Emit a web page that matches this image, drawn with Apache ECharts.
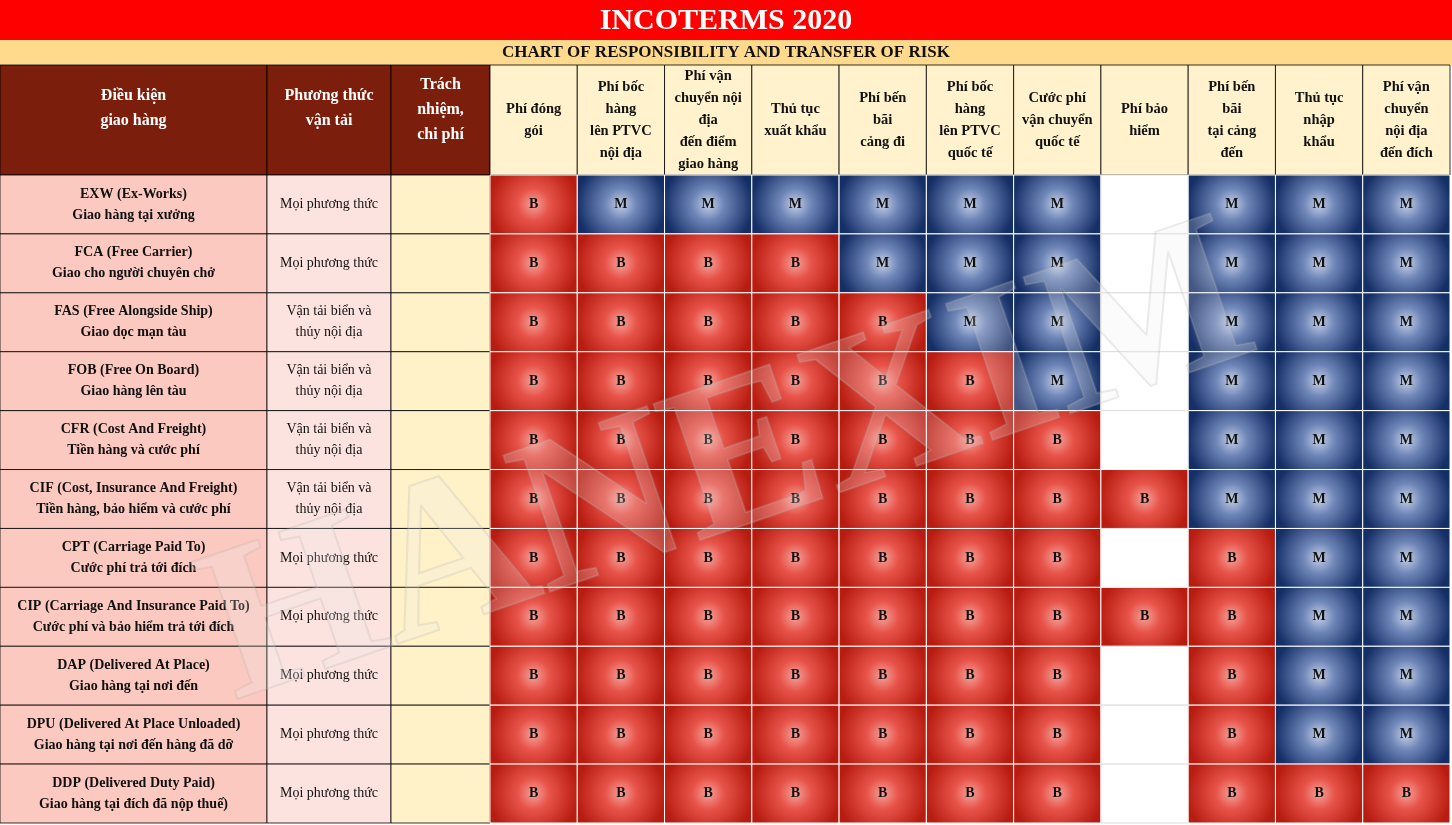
<!DOCTYPE html>
<html><head><meta charset="utf-8">
<script src="https://cdn.jsdelivr.net/npm/echarts@6/dist/echarts.min.js"></script>
<style>html,body{margin:0;padding:0;background:#fff}#c{width:1452px;height:825px}</style>
</head><body><div id="c"></div>
<script>
const title = 'INCOTERMS 2020';
const subtitle = 'CHART OF RESPONSIBILITY AND TRANSFER OF RISK';
const leftHeaders = ['Điều kiện\ngiao hàng', 'Phương thức\nvận tải', 'Trách\nnhiệm,\nchi phí'];
const costHeaders = ['Phí đóng\ngói','Phí bốc\nhàng\nlên PTVC\nnội địa','Phí vận\nchuyển nội\nđịa\nđến điểm\ngiao hàng','Thủ tục\nxuất khẩu','Phí bến\nbãi\ncảng đi','Phí bốc\nhàng\nlên PTVC\nquốc tế','Cước phí\nvận chuyển\nquốc tế','Phí bảo\nhiểm','Phí bến\nbãi\ntại cảng\nđến','Thủ tục\nnhập\nkhẩu','Phí vận\nchuyển\nnội địa\nđến đích'];
const terms = ['EXW (Ex-Works)\nGiao hàng tại xưởng','FCA (Free Carrier)\nGiao cho người chuyên chở','FAS (Free Alongside Ship)\nGiao dọc mạn tàu','FOB (Free On Board)\nGiao hàng lên tàu','CFR (Cost And Freight)\nTiền hàng và cước phí','CIF (Cost, Insurance And Freight)\nTiền hàng, bảo hiểm và cước phí','CPT (Carriage Paid To)\nCước phí trả tới đích','CIP (Carriage And Insurance Paid To)\nCước phí và bảo hiểm trả tới đích','DAP (Delivered At Place)\nGiao hàng tại nơi đến','DPU (Delivered At Place Unloaded)\nGiao hàng tại nơi đến hàng đã dỡ','DDP (Delivered Duty Paid)\nGiao hàng tại đích đã nộp thuế)'];
const transport = ['Mọi phương thức','Mọi phương thức','Vận tải biển và\nthủy nội địa','Vận tải biển và\nthủy nội địa','Vận tải biển và\nthủy nội địa','Vận tải biển và\nthủy nội địa','Mọi phương thức','Mọi phương thức','Mọi phương thức','Mọi phương thức','Mọi phương thức'];
const matrix = [
 'BMMMMMM-MMM',
 'BBBBMMM-MMM',
 'BBBBBMM-MMM',
 'BBBBBBM-MMM',
 'BBBBBBB-MMM',
 'BBBBBBBBMMM',
 'BBBBBBB-BMM',
 'BBBBBBBBBMM',
 'BBBBBBB-BMM',
 'BBBBBBB-BMM',
 'BBBBBBB-BBB'
];
const rowIdx = terms.map((_, i) => i);
const cells = [];
matrix.forEach((r, y) => r.split('').forEach((v, x) => cells.push([x, y, v])));

const F = '"Liberation Serif", "DejaVu Serif", serif';
const TOP = 175;
const leftCols = [[0, 267], [267, 124], [391, 99]];
const grids = leftCols.map(c => ({left: c[0], width: c[1], top: TOP, bottom: 2}));
grids.push({left: 490, right: 2, top: TOP, bottom: 2});
const xAxes = [], yAxes = [];
for (let i = 0; i < 4; i++) {
  xAxes.push({type: 'category', gridIndex: i, data: i === 3 ? costHeaders : ['c'], show: false});
  yAxes.push({type: 'category', gridIndex: i, data: rowIdx, inverse: true, show: false});
}
function rectItem(api, fill, txt, font, color) {
  const p = api.coord([api.value(0), api.value(1)]);
  const s = api.size([1, 1]);
  return {type: 'group', children: [
    {type: 'rect', shape: {x: p[0] - s[0] / 2, y: p[1] - s[1] / 2, width: s[0], height: s[1]},
     style: {fill: fill, stroke: '#000', lineWidth: 0.8}},
    {type: 'text', style: {x: p[0], y: p[1], text: txt, align: 'center', verticalAlign: 'middle',
     font: font, fill: color || '#000', lineHeight: 21}}
  ]};
}
const leftColors = ['#FCC9C0', '#FCE3DF', '#FFF2C8'];
const leftSeries = [0, 1, 2].map(ci => ({
  type: 'custom', xAxisIndex: ci, yAxisIndex: ci,
  data: rowIdx.map(i => [0, i]),
  renderItem: (params, api) => {
    const i = api.value(1);
    const txt = ci === 0 ? terms[i] : ci === 1 ? transport[i] : '';
    return rectItem(api, leftColors[ci], txt, (ci === 0 ? 'bold 14px ' : '14px ') + F, '#111');
  }
}));
const redG = {type: 'radial', x: 0.5, y: 0.5, r: 0.75, colorStops: [{offset: 0, color: '#F4A29A'}, {offset: 0.35, color: '#E8544A'}, {offset: 1, color: '#B81C10'}]};
const blueG = {type: 'radial', x: 0.5, y: 0.5, r: 0.75, colorStops: [{offset: 0, color: '#C5D0E6'}, {offset: 0.35, color: '#6F86B8'}, {offset: 1, color: '#142E66'}]};
const matrixSeries = {
  type: 'custom', xAxisIndex: 3, yAxisIndex: 3, data: cells,
  renderItem: (params, api) => {
    const v = cells[params.dataIndex][2];
    const p = api.coord([api.value(0), api.value(1)]);
    const s = api.size([1, 1]);
    const fill = v === 'B' ? redG : v === 'M' ? blueG : '#fff';
    return {type: 'group', children: [
      {type: 'rect', shape: {x: p[0] - s[0] / 2, y: p[1] - s[1] / 2, width: s[0], height: s[1]},
       style: {fill: fill, stroke: v === '-' ? '#ddd' : '#fff', lineWidth: 1}},
      {type: 'text', style: {x: p[0], y: p[1], text: v === '-' ? '' : v, align: 'center', verticalAlign: 'middle', font: 'bold 14px ' + F, fill: '#111'}}
    ]};
  }
};
const graphic = [
  {type: 'rect', shape: {x: 0, y: 0, width: 1452, height: 40}, style: {fill: '#FF0000'}},
  {type: 'text', style: {x: 726, y: 21, text: title, align: 'center', verticalAlign: 'middle', font: 'bold 30px ' + F, fill: '#fff'}},
  {type: 'rect', shape: {x: 0, y: 40, width: 1452, height: 25}, style: {fill: '#FFD98C'}},
  {type: 'text', style: {x: 726, y: 53, text: subtitle, align: 'center', verticalAlign: 'middle', font: 'bold 17px ' + F, fill: '#111'}}
];
leftCols.forEach((c, i) => {
  graphic.push({type: 'rect', shape: {x: c[0], y: 65, width: c[1], height: 110}, style: {fill: '#7B1E0C', stroke: '#000', lineWidth: 0.8}});
  graphic.push({type: 'text', style: {x: c[0] + c[1] / 2, y: i === 2 ? 110 : 108, text: leftHeaders[i], align: 'center', verticalAlign: 'middle', font: 'bold 16px ' + F, fill: '#fff', lineHeight: 25}});
});
const cw = (1450 - 490) / costHeaders.length;
costHeaders.forEach((h, i) => {
  const x = 490 + i * cw;
  graphic.push({type: 'rect', shape: {x: x, y: 65, width: cw, height: 110}, style: {fill: '#FFF2CC', stroke: '#000', lineWidth: 0.8}});
  graphic.push({type: 'text', style: {x: x + cw / 2, y: 120, text: h, align: 'center', verticalAlign: 'middle', font: 'bold 14.5px ' + F, fill: '#111', lineHeight: 22}});
});
graphic.push({type: 'text', z: 100, rotation: 0.33, x: 730, y: 470, style: {text: 'HANEXIM', align: 'center', verticalAlign: 'middle', font: 'bold 220px ' + F, fill: 'rgba(235,235,235,0.22)', stroke: 'rgba(170,170,170,0.25)', lineWidth: 2}});

const chart = echarts.init(document.getElementById('c'));
chart.setOption({
  animation: false,
  grid: grids, xAxis: xAxes, yAxis: yAxes,
  series: leftSeries.concat([matrixSeries]),
  graphic: graphic
});
</script></body></html>
